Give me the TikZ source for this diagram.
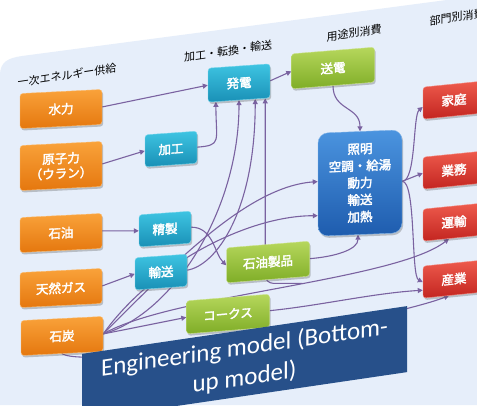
\documentclass[tikz,border=0pt]{standalone}
\usepackage{fontspec}
\setmainfont{Carlito}
\newfontfamily\jp{Noto Sans CJK JP}
\newfontfamily\jpb{Noto Sans CJK JP}[FakeBold=2.5]
\usetikzlibrary{arrows.meta,shadows,calc}

\definecolor{panelbg}{HTML}{E6EEFA}
\definecolor{flow}{HTML}{7A62A0}
\definecolor{srcT}{HTML}{F9A23A}
\definecolor{srcB}{HTML}{E5770E}
\definecolor{convT}{HTML}{3EC4E2}
\definecolor{convB}{HTML}{1990B6}
\definecolor{prodT}{HTML}{B6D75C}
\definecolor{prodB}{HTML}{7FAD27}
\definecolor{sectT}{HTML}{EE5B4D}
\definecolor{sectB}{HTML}{C32520}
\definecolor{useT}{HTML}{4B94DF}
\definecolor{useB}{HTML}{1E5CAE}
\definecolor{titleblue}{HTML}{27508A}

\pgfdeclarelayer{bg}
\pgfdeclarelayer{edges}
\pgfsetlayers{bg,edges,main}

\tikzset{
  box/.style={rounded corners=3pt, minimum height=34pt, inner sep=2pt,
    text=white, font=\jpb\fontsize{12.5}{15}\selectfont,
    drop shadow={shadow xshift=1.2pt, shadow yshift=-2pt, opacity=0.3, fill=black!70}},
  src/.style={box, minimum width=82pt, minimum height=35pt, top color=srcT, bottom color=srcB, draw=srcT!70!white, yslant=0.05},
  conv/.style={box, minimum width=52pt, minimum height=32pt, top color=convT, bottom color=convB, draw=convT!70!white, yslant=0.07},
  prod/.style={box, minimum width=83pt, minimum height=35pt, top color=prodT, bottom color=prodB, draw=prodT!70!white, yslant=0.08},
  sect/.style={box, minimum width=62pt, minimum height=32pt, top color=sectT, bottom color=sectB, draw=sectT!70!white, yslant=0.1},
  usebox/.style={box, rounded corners=10pt, minimum width=84pt, minimum height=103pt, align=center,
    font=\jpb\fontsize{12.5}{17}\selectfont, top color=useT, bottom color=useB, draw=useT!70!white, yslant=0.04},
  hdr/.style={font=\jp\fontsize{11}{13}\selectfont, inner sep=0pt, yslant=0.15},
  titlebox/.style={fill=titleblue, text=white, yslant=0.147, minimum width=325pt, minimum height=66pt,
    inner sep=0pt, align=center, font=\fontsize{25}{30}\selectfont},
  flowline/.style={draw=flow, line width=1.1pt, -{Triangle[length=5pt,width=5pt]}}
}

\begin{document}
\begin{tikzpicture}[x=1pt, y=-1pt]
\useasboundingbox (0,0) rectangle (477,405);

% slide background and tilted panel
\begin{pgfonlayer}{bg}
  \fill[white] (0,0) rectangle (477,405);
  \fill[panelbg] (0,405) -- (0,75) .. controls (0,62) and (8,58) .. (22,56) -- (477,-4) -- (477,405) -- cycle;
\end{pgfonlayer}

% column headings
\node[hdr] (h1) at (67,75) {一次エネルギー供給};
\node[hdr] (h2) at (228,51) {加工・転換・輸送};
\node[hdr] (h3) at (354,33) {用途別消費};
\node[hdr] (h4) at (457,17) {部門別消費};

% primary supply
\node[src] (sui) at (61,109) {水力};
\node[src, minimum height=45pt, align=center] (gen) at (61,166) {原子力\\（ウラン）};
\node[src] (oil) at (61,233) {石油};
\node[src] (gas) at (61,288) {天然ガス};
\node[src] (coal) at (62,336) {石炭};

% conversion
\node[conv] (kako) at (171,149) {加工};
\node[conv, minimum width=62pt, minimum height=34pt] (hatsu) at (239,83) {発電};
\node[conv] (seisei) at (165,229) {精製};
\node[conv] (yuso) at (161,272) {輸送};

% products
\node[prod] (soden) at (333,68) {送電};
\node[prod] (oilp) at (268,262) {石油製品};
\node[prod, minimum height=33pt] (coke) at (228,314) {コークス};

% end uses
\node[usebox] (use) at (360,183) {照明\\空調・給湯\\動力\\輸送\\加熱};

% sectors
\node[sect] (katei) at (454,100) {家庭};
\node[sect] (gyomu) at (454,170) {業務};
\node[sect] (unyu) at (454,222) {運輸};
\node[sect] (sangyo) at (454,279) {産業};

% title banner
\node[titlebox] (ttl) at (244.5,363) {Engineering model (Bottom-\\up model)};

\begin{pgfonlayer}{edges}
  \draw[flowline] (sui.east) -- (hatsu.west);
  \draw[flowline] (gen.east) -- (kako.west);
  \draw[flowline] (kako.east) .. controls +(25,-2) and +(0,40) .. ($(hatsu.south west)!0.13!(hatsu.south east)$);
  \draw[flowline] (hatsu.east) -- (soden.west);
  \draw[flowline] (soden.south) .. controls +(0,25) and +(0,-25) .. (use.north);
  \draw[flowline] (use.east) .. controls +(14,0) and +(-10,8) .. ($(katei.north west)!0.62!(katei.south west)$);
  \draw[flowline] (use.east) -- (gyomu.west);
  \draw[flowline] (use.east) .. controls +(14,0) and +(-12,-6) .. ($(sangyo.north west)!0.5!(sangyo.south west)$);
  \draw[flowline] (oil.east) .. controls +(18,0) and +(-18,0) .. (seisei.west);
  \draw[flowline] (gas.east) -- (yuso.west);
  \draw[flowline] (seisei.east) .. controls +(22,0) and +(-12,-12) .. (oilp.west);
  \draw[flowline] (coal.east) -- (coke.west);
  \draw[flowline] (oilp.east) .. controls +(25,-2) and +(0,15) .. ([xshift=-2pt]use.south);
  \draw[flowline] (coke.east) .. controls +(50,-5) and +(-50,3) .. ($(sangyo.north west)!0.75!(sangyo.south west)$);
  \draw[flowline] (coal.south) .. controls +(28,17) and +(-68,26) .. ($(sangyo.south west)!0.42!(sangyo.south east)$);
  % coal and gas feeding the power plant and end uses
  \draw[flowline] (coal.east) .. controls +(70,-20) and +(0,110) .. (hatsu.south);
  \draw[flowline] (yuso.east) .. controls +(30,-5) and +(0,110) .. ($(hatsu.south west)!0.76!(hatsu.south east)$);
  \draw[flowline] (coal.east) .. controls +(70,-70) and +(-70,5) .. ($(use.north west)!0.47!(use.south west)$);
  \draw[flowline] (coal.east) .. controls +(50,-70) and +(-70,0) .. ($(use.north west)!0.8!(use.south west)$);
  \draw[flowline] (coal.east) .. controls +(67,-39) and +(-54,42) .. coordinate[pos=0.55] (j) ($(unyu.south west)!0.42!(unyu.south east)$);
  \draw[flowline, rounded corners=8pt] (j) -| ($(hatsu.south west)!0.92!(hatsu.south east)$);
\end{pgfonlayer}
\end{tikzpicture}
\end{document}
